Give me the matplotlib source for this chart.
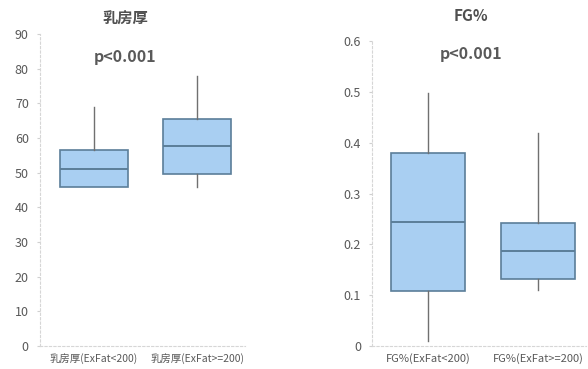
import matplotlib
matplotlib.use('Agg')
import matplotlib.pyplot as plt

plt.rcParams['font.family'] = ['Noto Sans CJK SC', 'DejaVu Sans']

# Box statistics: lower whisker, Q1, median, Q3, upper whisker
thick_labels = ['乳房厚(ExFat<200)', '乳房厚(ExFat>=200)']
thick_low = [46.0, 46.0]
thick_q1 = [46.0, 49.7]
thick_med = [51.2, 57.8]
thick_q3 = [56.6, 65.6]
thick_high = [69.0, 78.0]

fg_labels = ['FG%(ExFat<200)', 'FG%(ExFat>=200)']
fg_low = [0.01, 0.11]
fg_q1 = [0.108, 0.132]
fg_med = [0.244, 0.187]
fg_q3 = [0.38, 0.242]
fg_high = [0.498, 0.419]

box_fill = '#a9cff2'
box_edge = '#5b7e99'
text_col = '#595959'


def make_stats(labels, low, q1, med, q3, high):
    return [dict(label=l, whislo=a, q1=b, med=c, q3=d, whishi=e, fliers=[])
            for l, a, b, c, d, e in zip(labels, low, q1, med, q3, high)]


def draw_panel(ax, stats, width, ylim, yticks, ylabels, xlim, xlab_size):
    ax.bxp(stats, positions=[1, 2], widths=width, patch_artist=True, showcaps=False,
           boxprops=dict(facecolor=box_fill, edgecolor=box_edge, linewidth=1.2),
           medianprops=dict(color=box_edge, linewidth=1.4),
           whiskerprops=dict(color='#707070', linewidth=1.0))
    ax.set_ylim(*ylim)
    ax.set_xlim(*xlim)
    ax.set_yticks(yticks)
    ax.set_yticklabels(ylabels, color=text_col, fontsize=9)
    ax.tick_params(axis='y', length=2, color='#d0d0d0', pad=6)
    ax.tick_params(axis='x', length=0, pad=5, labelsize=xlab_size, labelcolor=text_col)
    for s in ['top', 'right']:
        ax.spines[s].set_visible(False)
    for s in ['left', 'bottom']:
        ax.spines[s].set_color('#d6d6d6')
        ax.spines[s].set_linestyle((0, (2, 2)))
        ax.spines[s].set_linewidth(0.8)


def add_heading(fx, title, ty, py):
    fig.text(fx, ty, title, ha='center', va='center', fontsize=11,
             fontweight='bold', color='#505050')
    fig.text(fx, py, 'p<0.001', ha='center', va='center', fontsize=11.5,
             fontweight='bold', color=text_col)


fig = plt.figure(figsize=(5.88, 3.69), dpi=100)

ax1 = fig.add_axes([0.068, 0.062, 0.349, 0.846])
draw_panel(ax1, make_stats(thick_labels, thick_low, thick_q1, thick_med, thick_q3, thick_high),
           0.66, (0, 90), range(0, 100, 10), [str(v) for v in range(0, 100, 10)],
           (0.477, 2.465), 7.5)
add_heading(125 / 588, '乳房厚', 1 - 19 / 369, 1 - 57 / 369)

ax2 = fig.add_axes([0.633, 0.062, 0.364, 0.827])
fg_ticks = [0, 0.1, 0.2, 0.3, 0.4, 0.5, 0.6]
draw_panel(ax2, make_stats(fg_labels, fg_low, fg_q1, fg_med, fg_q3, fg_high),
           0.67, (0, 0.6), fg_ticks, ['0', '0.1', '0.2', '0.3', '0.4', '0.5', '0.6'],
           (0.49, 2.436), 8)
add_heading(471 / 588, 'FG%', 1 - 16 / 369, 1 - 54 / 369)

fig.savefig('out.png', dpi=100)
